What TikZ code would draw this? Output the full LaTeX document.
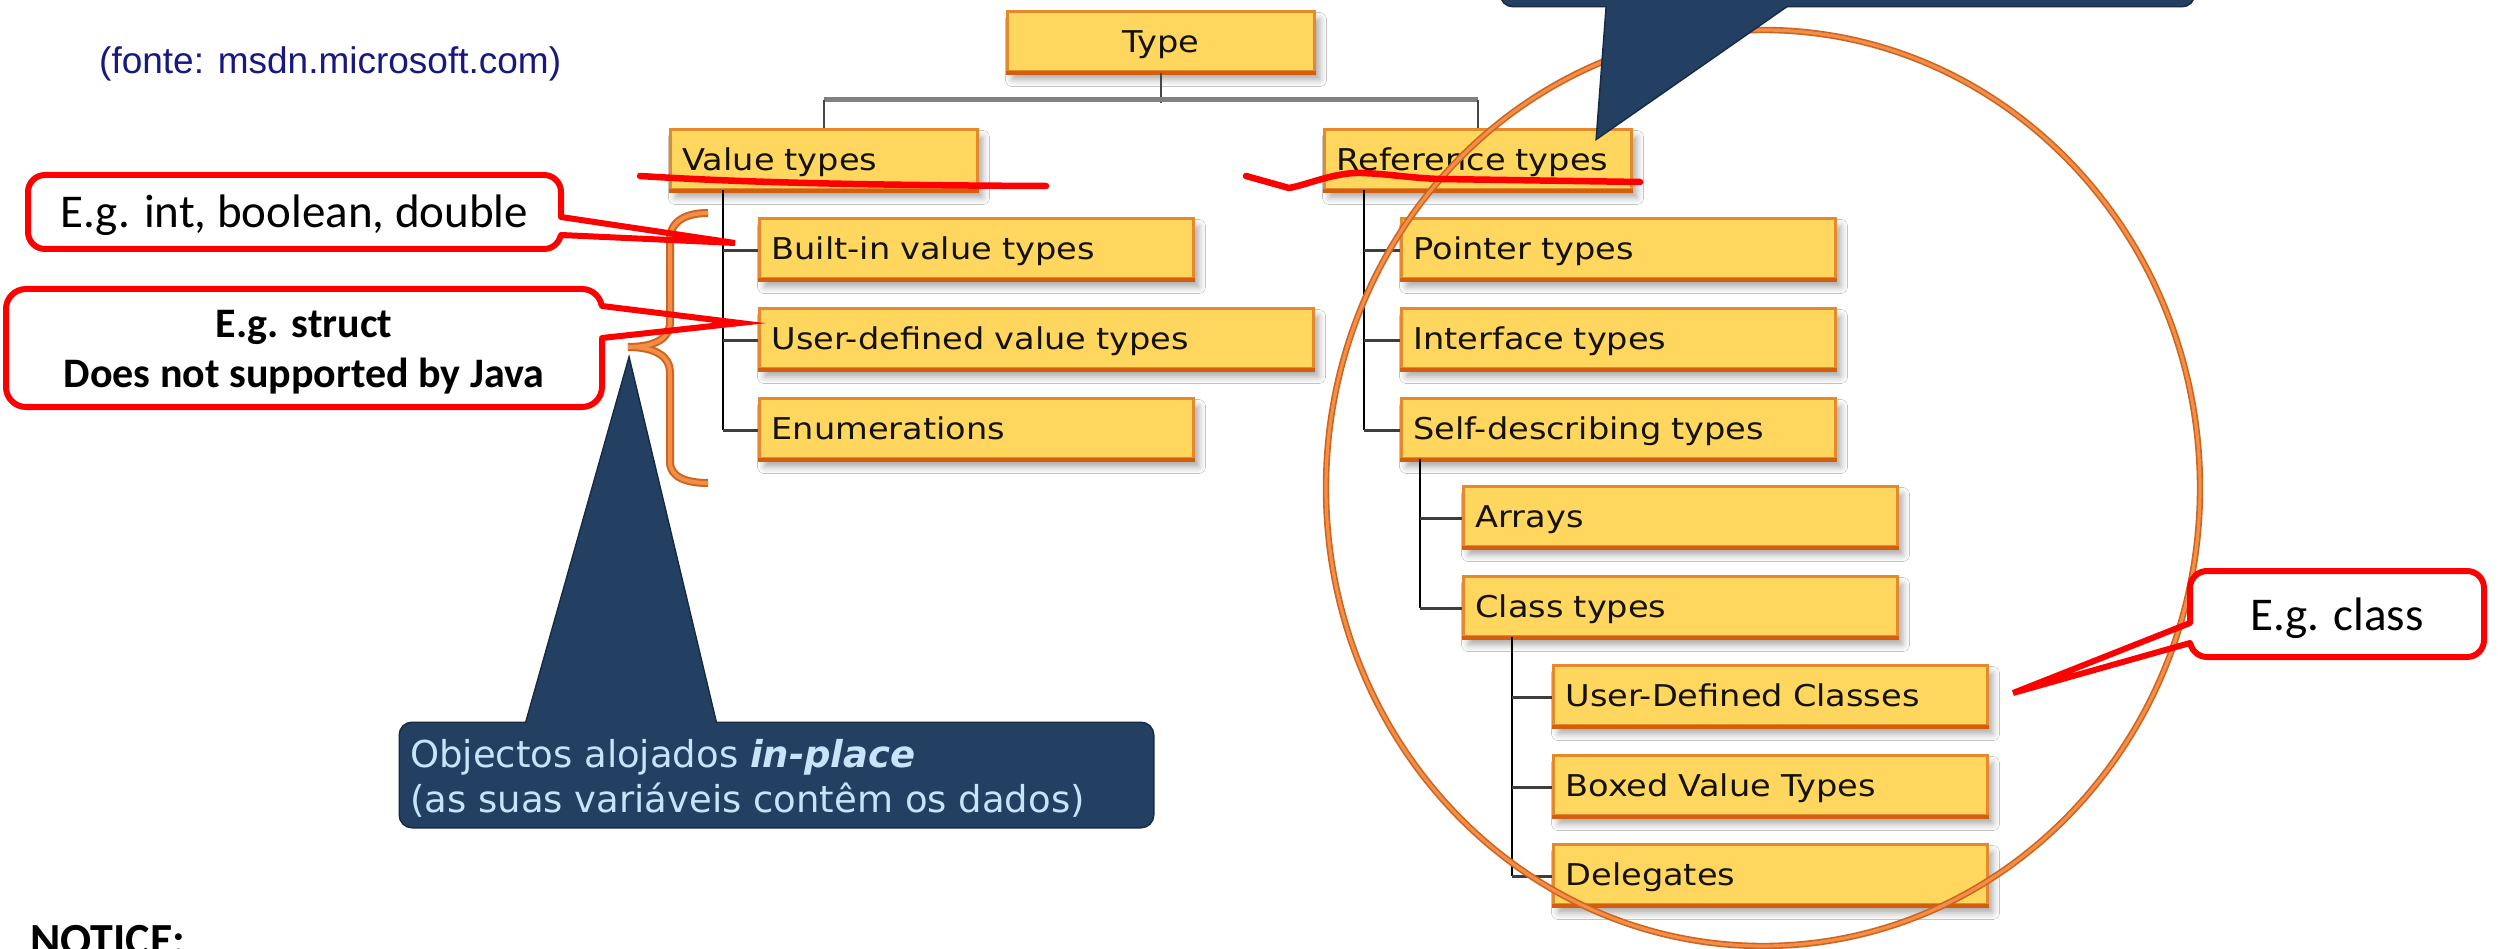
\documentclass[tikz,border=0pt]{standalone}
\usepackage{fontspec}
\usetikzlibrary{shadows.blur}

% Fonts: Verdana-like boxes, Calibri-like callouts, Arial-like source line
\newfontfamily\boxfont[FakeStretch=1.12]{DejaVu Sans}
\newfontfamily\notefont{DejaVu Sans}[ItalicFont={DejaVu Sans Oblique},BoldFont={DejaVu Sans Bold},BoldItalicFont={DejaVu Sans Bold Oblique}]
\newfontfamily\calfont{Carlito}
\newfontfamily\srcfont{Liberation Sans}

\definecolor{boxfill}{RGB}{255,214,94}
\definecolor{boxedge}{RGB}{230,136,44}
\definecolor{boxlow}{RGB}{212,94,14}
\definecolor{boxtext}{RGB}{20,18,4}
\definecolor{bargray}{RGB}{128,128,128}
\definecolor{stemgray}{RGB}{70,70,70}
\definecolor{tickgray}{RGB}{62,62,62}
\definecolor{notefill}{RGB}{35,64,98}
\definecolor{noteedge}{RGB}{22,42,66}
\definecolor{notetext}{RGB}{200,228,250}
\definecolor{srcblue}{RGB}{24,24,128}
\definecolor{ringdark}{RGB}{205,100,32}
\definecolor{ringlight}{RGB}{244,142,70}
\definecolor{markred}{RGB}{255,0,0}

\tikzset{
  tbox/.style={draw=boxedge, line width=3pt, fill=boxfill, anchor=north west,
    minimum height=60pt, inner xsep=12pt, inner ysep=0pt,
    text height=22pt, text depth=0pt, align=left, text=boxtext,
    font=\boxfont\fontsize{30}{36}\selectfont,
    blur shadow={shadow xshift=5pt, shadow yshift=-8pt, shadow blur radius=7pt, shadow opacity=35}},
  narrowbox/.style={text width=283pt},
  midbox/.style={text width=410pt},
  widebox/.style={text width=530pt},
  boxlowedge/.style={draw=boxlow, line width=4pt},
  stem/.style={draw=stemgray, line width=2.5pt},
  hbar/.style={draw=bargray, line width=5pt},
  trunk/.style={draw=black, line width=2.5pt, line cap=rect},
  twig/.style={draw=tickgray, line width=3.5pt},
  bracestroke/.style={draw=ringdark, line width=2pt, double=ringlight, double distance=4pt},
  ringstroke/.style={draw=ringdark, line width=1.6pt, double=ringlight, double distance=3.2pt},
  redmark/.style={draw=markred, line width=6.5pt, line cap=round, line join=round},
  callbox/.style={draw=markred, fill=white, line width=6pt, rounded corners=17pt},
  callwedge/.style={draw=markred, line width=6pt, line cap=round, line join=miter},
  calltext/.style={anchor=base, inner sep=0pt, text=black, font=\calfont\fontsize{47}{56}\selectfont},
  noteout/.style={draw=noteedge, line width=3pt},
  notebody/.style={fill=notefill},
}

\begin{document}
\begin{tikzpicture}[x=1pt,y=-1pt]
\useasboundingbox (0,0) rectangle (2503,949);
\fill[white] (0,0) rectangle (2503,949);

% ---------- type hierarchy ----------
\node[tbox,narrowbox,align=center] (type) at (1006,10) {Type};
\node[tbox,narrowbox] (value)    at (669,128)  {Value types};
\node[tbox,narrowbox] (ref)      at (1323,128) {Reference types};
\node[tbox,midbox]    (builtin)  at (758,217)  {Built-in value types};
\node[tbox,widebox]   (userdef)  at (758,307)  {User-defined value types};
\node[tbox,midbox]    (enum)     at (758,397)  {Enumerations};
\node[tbox,midbox]    (pointer)  at (1400,217) {Pointer types};
\node[tbox,midbox]    (iface)    at (1400,307) {Interface types};
\node[tbox,midbox]    (selfdesc) at (1400,397) {Self-describing types};
\node[tbox,midbox]    (arrays)   at (1462,485) {Arrays};
\node[tbox,midbox]    (classt)   at (1462,575) {Class types};
\node[tbox,midbox]    (udc)      at (1552,664) {User-Defined Classes};
\node[tbox,midbox]    (boxed)    at (1552,754) {Boxed Value Types};
\node[tbox,midbox]    (deleg)    at (1552,843) {Delegates};

\foreach \n in {type,value,ref,builtin,userdef,enum,pointer,iface,selfdesc,arrays,classt,udc,boxed,deleg}
  \draw[boxlowedge] (\n.south west) -- (\n.south east);

% root fork
\draw[stem] (type.south) -- ++(0,30);
\draw[hbar] ([yshift=28pt]value.north) -- ([yshift=28pt]ref.north);
\draw[stem] (value.north) -- ++(0,-28);
\draw[stem] (ref.north) -- ++(0,-28);

% value types branch
\draw[trunk] ([xshift=54pt]value.south west) coordinate (vtrunk) -- (vtrunk |- enum.west);
\foreach \c in {builtin,userdef,enum}
  \draw[twig] ([yshift=-2pt]vtrunk |- \c.west) -- ([yshift=-2pt]\c.west);

% reference types branch
\draw[trunk] ([xshift=41pt]ref.south west) coordinate (rtrunk) -- (rtrunk |- selfdesc.west);
\foreach \c in {pointer,iface,selfdesc}
  \draw[twig] ([yshift=-2pt]rtrunk |- \c.west) -- ([yshift=-2pt]\c.west);

% self-describing branch
\draw[trunk] ([xshift=20pt]selfdesc.south west) coordinate (strunk) -- (strunk |- classt.west);
\foreach \c in {arrays,classt}
  \draw[twig] ([yshift=-2pt]strunk |- \c.west) -- ([yshift=-2pt]\c.west);

% class types branch
\draw[trunk] ([xshift=50pt]classt.south west) coordinate (ctrunk) -- (ctrunk |- deleg.west);
\foreach \c in {udc,boxed,deleg}
  \draw[twig] ([yshift=-2pt]ctrunk |- \c.west) -- ([yshift=-2pt]\c.west);

% ---------- source line ----------
\node[anchor=base west, inner sep=0pt, text=srcblue, font=\srcfont\fontsize{37}{44}\selectfont] (src) at (99,74) {(fonte: msdn.microsoft.com)};

% ---------- brace grouping the value types ----------
\draw[bracestroke] (708,213) .. controls (686,213) and (670,221) .. (670,240) -- (670,322)
  .. controls (670,338) and (656,347) .. (628,347)
  .. controls (656,347) and (670,357) .. (670,372) -- (670,462)
  .. controls (670,477) and (686,483) .. (708,483);

% ---------- ring around the reference types ----------
\draw[ringstroke] (1763,488) ellipse [x radius=437, y radius=458];

% ---------- hand-drawn underlines ----------
\draw[redmark] (640,176) .. controls (720,181) and (820,185) .. (1046,186);
\draw[redmark] (1246,176) -- (1289,188) .. controls (1310,184) and (1335,172) .. (1362,173)
  .. controls (1390,174) and (1410,178) .. (1440,179) -- (1640,182);

% ---------- red callouts ----------
\coordinate (tipA) at (735,243);
\draw[callbox] (28,175) rectangle (561,249);
\fill[white] (557,217) rectangle (565,235);
\draw[callwedge] (561,217) -- (tipA) -- (561,235);
\node[calltext] (noteA) at (294.5,228) {E.g. int, boolean, double};

\coordinate (tipB) at (740,323);
\draw[callbox, rounded corners=20pt] (6,289) rectangle (602,407);
\fill[white] (598,306) rectangle (606,338);
\draw[callwedge] (602,306) -- (tipB) -- (602,338);
\node[anchor=north, inner sep=0pt, align=center, text=black,
      font=\calfont\bfseries\fontsize{42}{50}\selectfont] (noteB) at (304,310)
  {E.g. struct\\Does not supported by Java};

\coordinate (tipC) at (2013,693);
\draw[callbox] (2190,571) rectangle (2484,657);
\fill[white] (2186,623) rectangle (2194,643);
\draw[callwedge] (2190,623) -- (tipC) -- (2190,643);
\node[calltext] (noteC) at (2337,630) {E.g. class};

% ---------- dark blue callouts ----------
\coordinate (tipD) at (629,360);
\path[noteout] [rounded corners=12pt] (400,723) rectangle (1153,827);
\path[noteout] (526,724) -- (tipD) -- (716,724) -- cycle;
\path[notebody] [rounded corners=12pt] (400,723) rectangle (1153,827);
\path[notebody] (526,724) -- (tipD) -- (716,724) -- cycle;
\node[anchor=north west, inner sep=0pt, align=left, text=notetext,
      font=\notefont\fontsize{37}{45}\selectfont] (inplace) at (410,739)
  {Objectos alojados \textbf{\textit{in-place}}\\(as suas variáveis contêm os dados)};

\coordinate (tipE) at (1597,138);
\path[noteout] [rounded corners=12pt] (1501,-60) rectangle (2194,6);
\path[noteout] (1607,5) -- (tipE) -- (1788,5) -- cycle;
\path[notebody] [rounded corners=12pt] (1501,-60) rectangle (2194,6);
\path[notebody] (1607,5) -- (tipE) -- (1788,5) -- cycle;

% ---------- footer ----------
\node[anchor=base west, inner sep=0pt, text=black, font=\calfont\bfseries\fontsize{46}{55}\selectfont] (notice) at (30,955) {NOTICE:};
\end{tikzpicture}
\end{document}
